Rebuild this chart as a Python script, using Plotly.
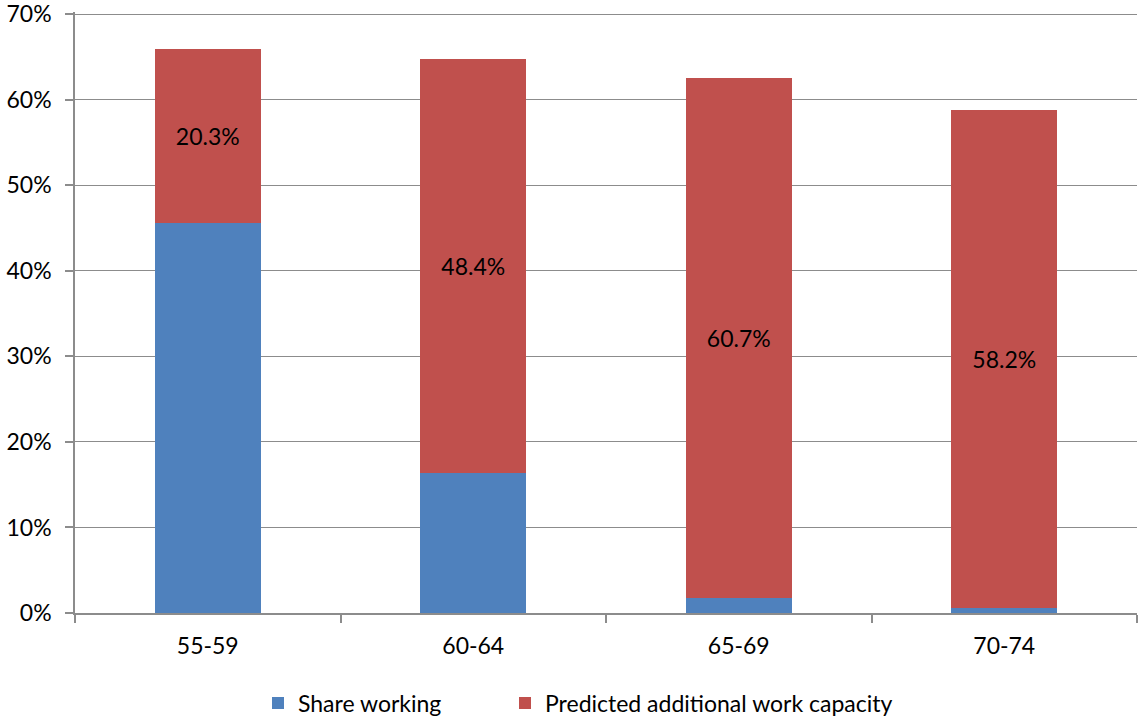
import plotly.graph_objects as go

age_groups = ["55-59", "60-64", "65-69", "70-74"]
share_working = [45.6, 16.4, 1.8, 0.6]
additional_capacity = [20.3, 48.4, 60.7, 58.2]
y_ticks = [0, 10, 20, 30, 40, 50, 60, 70]

FONT = "Lato, 'Open Sans', sans-serif"
FS = 23
BLUE = "#4F81BD"
RED = "#C0504D"
GRID = "#8C8C8C"

x_pos = list(range(len(age_groups)))

fig = go.Figure()
fig.add_trace(go.Bar(
    x=x_pos, y=share_working, name="Share working",
    marker=dict(color=BLUE, line=dict(width=0)), width=0.4,
    hoverinfo="skip", legend="legend", showlegend=True,
))
fig.add_trace(go.Bar(
    x=x_pos, y=additional_capacity, name="Predicted additional work capacity",
    marker=dict(color=RED, line=dict(width=0)), width=0.4,
    text=[f"{v:.1f}%" for v in additional_capacity],
    textposition="inside", insidetextanchor="middle",
    textfont=dict(color="black", size=FS, family=FONT),
    hoverinfo="skip", legend="legend2", showlegend=True,
))

legend_common = dict(
    orientation="h", xanchor="left",
    yref="container", y=(718 - 703) / 718, yanchor="middle",
    xref="container", font=dict(size=FS, family=FONT),
)

fig.update_layout(
    barmode="stack",
    width=1139, height=718,
    margin=dict(l=75, r=2, t=12, b=105),
    paper_bgcolor="white", plot_bgcolor="white",
    font=dict(family=FONT, size=FS, color="black"),
    uniformtext=dict(minsize=FS, mode="show"),
    showlegend=True,
    legend=dict(x=258 / 1139, **legend_common),
    legend2=dict(x=505 / 1139, **legend_common),
    xaxis=dict(
        range=[-0.5, 3.5],
        tickvals=x_pos, ticktext=age_groups,
        ticks="", showgrid=False, zeroline=False,
        showline=True, linecolor=GRID, linewidth=1.5,
        tickfont=dict(size=FS, family=FONT),
        ticklabelstandoff=12,
        minor=dict(tick0=-0.5, dtick=1, ticks="outside", ticklen=8,
                   tickcolor=GRID, tickwidth=1.5, showgrid=False),
        automargin=False,
        fixedrange=True,
    ),
    yaxis=dict(
        range=[0, 70.25],
        tickvals=y_ticks, ticktext=[f"{v}%" for v in y_ticks],
        ticks="outside", ticklen=8, tickcolor=GRID, tickwidth=1.5,
        showgrid=True, gridcolor=GRID, gridwidth=1.2,
        zeroline=False, showline=True, linecolor=GRID, linewidth=1.5,
        tickfont=dict(size=FS, family=FONT),
        ticklabelstandoff=9,
        ticklabeloverflow="allow",
        automargin=False,
        fixedrange=True,
    ),
)

fig.write_html("out.html")
